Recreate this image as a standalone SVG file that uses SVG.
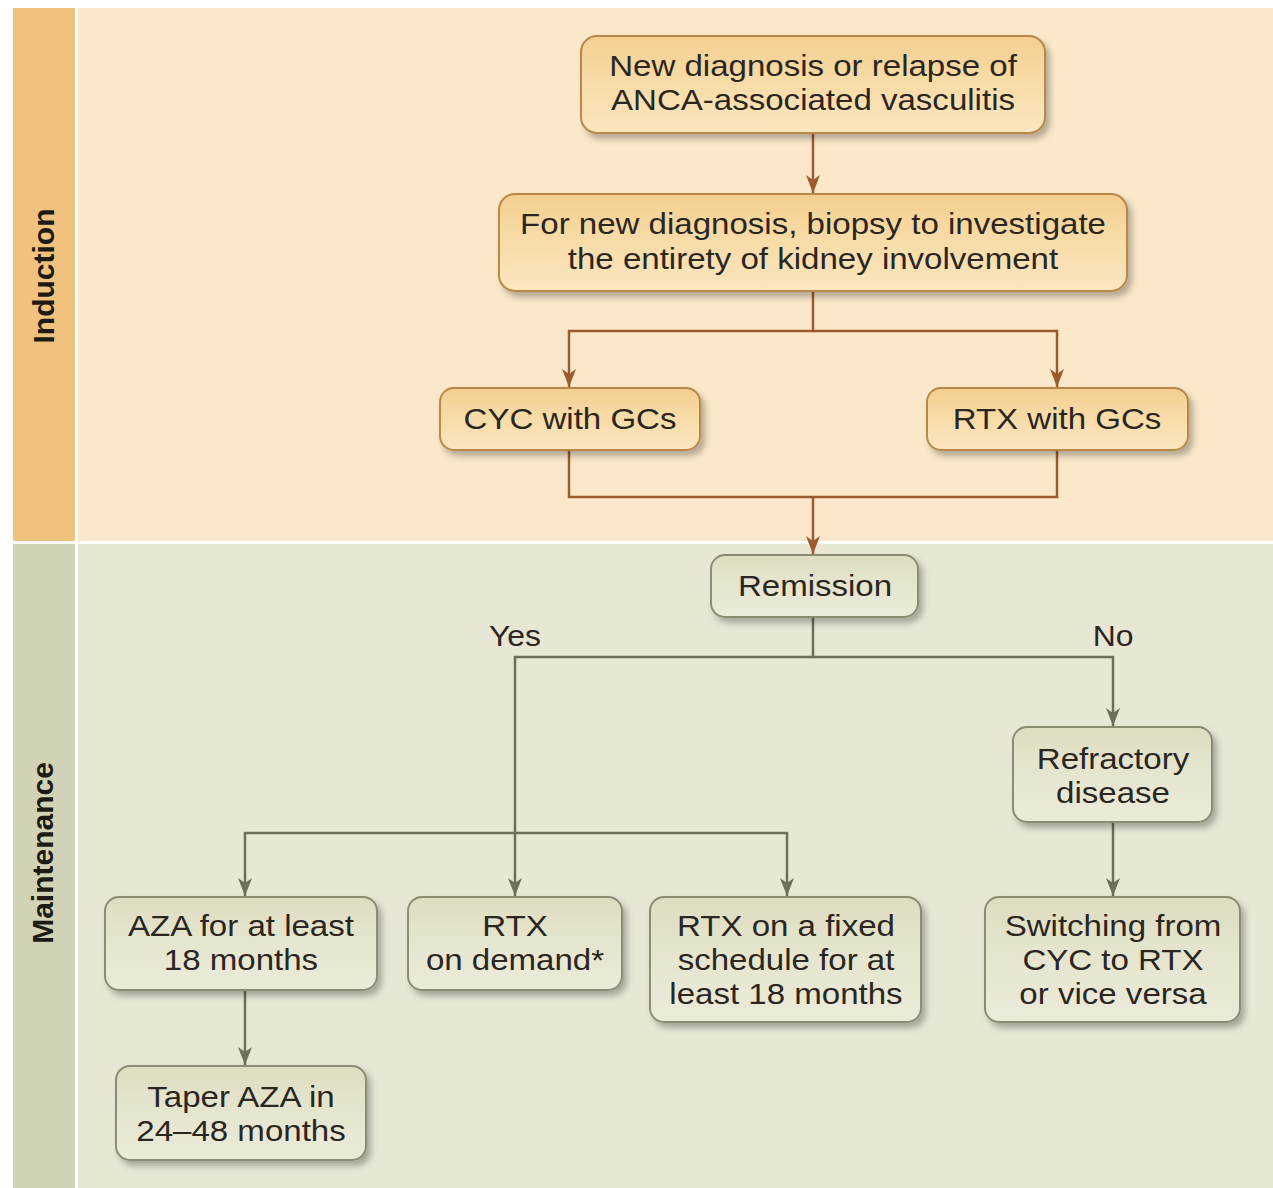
<svg xmlns="http://www.w3.org/2000/svg" width="1273" height="1188" viewBox="0 0 1273 1188">
<defs>
<linearGradient id="gOr" x1="0" y1="0" x2="0" y2="1"><stop offset="0" stop-color="#F4CF8F"/><stop offset="0.5" stop-color="#F8DCA9"/><stop offset="1" stop-color="#FBE6C0"/></linearGradient>
<linearGradient id="gGr" x1="0" y1="0" x2="0" y2="1"><stop offset="0" stop-color="#DEDDC2"/><stop offset="0.5" stop-color="#E6E5CF"/><stop offset="1" stop-color="#ECEBDB"/></linearGradient>
<filter id="sh" x="-10%" y="-10%" width="130%" height="140%"><feDropShadow dx="4" dy="5" stdDeviation="3" flood-color="#000" flood-opacity="0.28"/></filter>
<marker id="aOr" markerWidth="18" markerHeight="14" refX="18" refY="7" orient="auto-start-reverse" markerUnits="userSpaceOnUse" viewBox="0 0 18 14"><path d="M0,0 L18,7 L0,14 L5,7 Z" fill="#9C5B2E"/></marker>
<marker id="aGr" markerWidth="18" markerHeight="14" refX="18" refY="7" orient="auto-start-reverse" markerUnits="userSpaceOnUse" viewBox="0 0 18 14"><path d="M0,0 L18,7 L0,14 L5,7 Z" fill="#6E6E5C"/></marker>
</defs>
<style>
text{font-family:"Liberation Sans",Arial,sans-serif;font-size:29px;fill:#2B2620;text-anchor:middle}
.side{font-weight:bold;font-size:30px;fill:#1E1A14}
.on{fill:url(#gOr);stroke:#B88948;stroke-width:2;filter:url(#sh)}
.gn{fill:url(#gGr);stroke:#8C8C74;stroke-width:2;filter:url(#sh)}
.co{fill:none;stroke:#9C5B2E;stroke-width:2.5}
.cg{fill:none;stroke:#6E6E5C;stroke-width:2.5}
</style>
<rect width="1273" height="1188" fill="#FFFFFF"/>
<g id="panels">
<rect x="13" y="8" width="62" height="533" fill="#F1C27D"/>
<rect x="78" y="8" width="1195" height="533" fill="#FBE8CA"/>
<rect x="13" y="544" width="62" height="644" fill="#D2D3B6"/>
<rect x="78" y="544" width="1195" height="644" fill="#E8E6D5"/>
<text class="side" transform="translate(54,276) rotate(-90)">Induction</text>
<text class="side" transform="translate(53,853) rotate(-90)">Maintenance</text>
</g>
<g id="connectors">
<path class="co" d="M813,134 V193" marker-end="url(#aOr)"/>
<path class="co" d="M813,292 V331 H569 V387" marker-end="url(#aOr)"/>
<path class="co" d="M813,331 H1057 V387" marker-end="url(#aOr)"/>
<path class="co" d="M569,451 V497 H1057 V451"/>
<path class="co" d="M813,497 V554" marker-end="url(#aOr)"/>
<path class="cg" d="M813,618 V657 H515 V896" marker-end="url(#aGr)"/>
<path class="cg" d="M813,657 H1113 V726" marker-end="url(#aGr)"/>
<path class="cg" d="M245,896 V833 H787 V896" marker-end="url(#aGr)" marker-start="url(#aGr)"/>
<path class="cg" d="M1113,823 V896" marker-end="url(#aGr)"/>
<path class="cg" d="M245,991 V1065" marker-end="url(#aGr)"/>
<text transform="translate(515,646) scale(1.1,1)">Yes</text>
<text transform="translate(1113,646) scale(1.1,1)">No</text>
</g>
<g id="n1"><rect class="on" x="581" y="36" width="464" height="97" rx="16"/><text transform="translate(813,76) scale(1.14,1)">New diagnosis or relapse of</text><text transform="translate(813,110) scale(1.14,1)">ANCA-associated vasculitis</text></g>
<g id="n2"><rect class="on" x="499" y="194" width="628" height="97" rx="16"/><text transform="translate(813,234) scale(1.14,1)">For new diagnosis, biopsy to investigate</text><text transform="translate(813,269) scale(1.14,1)">the entirety of kidney involvement</text></g>
<g id="n3"><rect class="on" x="440" y="388" width="260" height="62" rx="14"/><text transform="translate(570,429) scale(1.14,1)">CYC with GCs</text></g>
<g id="n4"><rect class="on" x="927" y="388" width="261" height="62" rx="14"/><text transform="translate(1057,429) scale(1.14,1)">RTX with GCs</text></g>
<g id="n5"><rect class="gn" x="711" y="555" width="207" height="62" rx="14"/><text transform="translate(815,596) scale(1.14,1)">Remission</text></g>
<g id="n6"><rect class="gn" x="1013" y="727" width="199" height="95" rx="14"/><text transform="translate(1113,769) scale(1.14,1)">Refractory</text><text transform="translate(1113,803) scale(1.14,1)">disease</text></g>
<g id="n7"><rect class="gn" x="105" y="897" width="272" height="93" rx="14"/><text transform="translate(241,936) scale(1.14,1)">AZA for at least</text><text transform="translate(241,970) scale(1.14,1)">18 months</text></g>
<g id="n8"><rect class="gn" x="408" y="897" width="214" height="93" rx="14"/><text transform="translate(515,936) scale(1.14,1)">RTX</text><text transform="translate(515,970) scale(1.14,1)">on demand*</text></g>
<g id="n9"><rect class="gn" x="650" y="897" width="271" height="125" rx="14"/><text transform="translate(786,936) scale(1.14,1)">RTX on a fixed</text><text transform="translate(786,970) scale(1.14,1)">schedule for at</text><text transform="translate(786,1004) scale(1.14,1)">least 18 months</text></g>
<g id="n10"><rect class="gn" x="985" y="897" width="255" height="125" rx="14"/><text transform="translate(1113,936) scale(1.14,1)">Switching from</text><text transform="translate(1113,970) scale(1.14,1)">CYC to RTX</text><text transform="translate(1113,1004) scale(1.14,1)">or vice versa</text></g>
<g id="n11"><rect class="gn" x="116" y="1066" width="250" height="94" rx="14"/><text transform="translate(241,1107) scale(1.14,1)">Taper AZA in</text><text transform="translate(241,1141) scale(1.14,1)">24–48 months</text></g>
</svg>
